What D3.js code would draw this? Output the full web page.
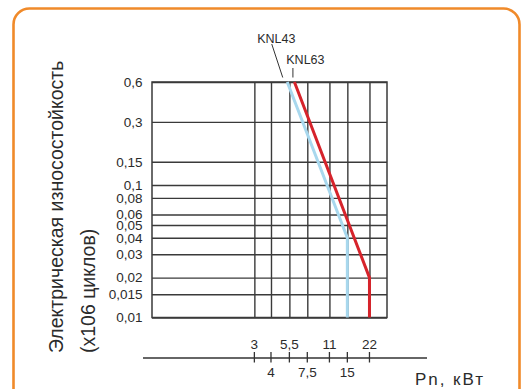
<!DOCTYPE html>
<html>
<head>
<meta charset="utf-8">
<script src="https://cdn.jsdelivr.net/npm/d3@7/dist/d3.min.js"></script>
<style>
  html, body { margin: 0; padding: 0; background: #fff; }
  svg { display: block; }
  text { font-family: "Liberation Sans", Arial, sans-serif; fill: #2b2b2b; }
</style>
</head>
<body>
<svg id="chart" width="524" height="389"></svg>
<script>
// ---- data ----
const xTickValues = [3, 4, 5.5, 7.5, 11, 15, 22];
const xTickLabels = ["3", "4", "5,5", "7,5", "11", "15", "22"];
const yTickValues = [0.6, 0.3, 0.15, 0.1, 0.08, 0.06, 0.05, 0.04, 0.03, 0.02, 0.015, 0.01];
const yTickLabels = ["0,6", "0,3", "0,15", "0,1", "0,08", "0,06", "0,05", "0,04", "0,03", "0,02", "0,015", "0,01"];
const knl43P = [5.3, 15, 15];
const knl43V = [0.6, 0.04, 0.01];
const knl63P = [6, 22, 22];
const knl63V = [0.6, 0.02, 0.01];
const seriesNames = ["KNL43", "KNL63"];
const yTitle = ["Электрическая износостойкость", "(x106 циклов)"];
const xTitle = "Pn, кВт";

// ---- layout ----
const svg = d3.select("#chart");
const pLeft = 152, pRight = 387, pTop = 82, pBottom = 317.5;
const gridColor = "#3a3a3a";

const x = d3.scaleLog().domain([0.51, 29.8]).range([pLeft, pRight]);
const y = d3.scaleLog().domain([0.01, 0.6]).range([pBottom, pTop]);

// orange frame
svg.append("rect")
  .attr("x", 13.5).attr("y", 8.5).attr("width", 506).attr("height", 420)
  .attr("rx", 16).attr("ry", 16)
  .attr("fill", "none").attr("stroke", "#f08a2a").attr("stroke-width", 2.6);

// horizontal grid + y labels
const yAxis = d3.axisLeft(y)
  .tickValues(yTickValues)
  .tickSize(-(pRight - pLeft))
  .tickPadding(9.5)
  .tickFormat((d, i) => yTickLabels[i]);
const gy = svg.append("g").attr("transform", `translate(${pLeft},0)`).call(yAxis);
gy.select(".domain").remove();
gy.selectAll(".tick line").attr("stroke", gridColor).attr("stroke-width", 1.4);
gy.selectAll(".tick text")
  .attr("font-size", 13.5)
  .attr("font-family", "Liberation Sans, Arial, sans-serif")
  .attr("fill", "#2b2b2b");

// vertical grid
const xGrid = d3.axisBottom(x)
  .tickValues(xTickValues)
  .tickSize(-(pBottom - pTop))
  .tickFormat("");
const gx = svg.append("g").attr("transform", `translate(0,${pBottom})`).call(xGrid);
gx.select(".domain").remove();
gx.selectAll(".tick line").attr("stroke", gridColor).attr("stroke-width", 1.4);

// frame
svg.append("rect")
  .attr("x", pLeft).attr("y", pTop).attr("width", pRight - pLeft).attr("height", pBottom - pTop)
  .attr("fill", "none").attr("stroke", gridColor).attr("stroke-width", 1.5);

// series lines
const line = d3.line().x(d => x(d[0])).y(d => y(d[1]));
const s43 = knl43P.map((p, i) => [p, knl43V[i]]);
const s63 = knl63P.map((p, i) => [p, knl63V[i]]);
svg.append("path").datum(s43).attr("d", line)
  .attr("fill", "none").attr("stroke", "#a8d8ee").attr("stroke-width", 3);
svg.append("path").datum(s63).attr("d", line)
  .attr("fill", "none").attr("stroke", "#d6232b").attr("stroke-width", 3);

// series labels with leaders
const x43 = x(knl43P[0]), x63 = x(knl63P[0]);
svg.append("text").attr("x", x43 - 11).attr("y", 42.5).attr("text-anchor", "middle")
  .attr("font-size", 12.5).text(seriesNames[0]);
svg.append("line").attr("x1", x43 - 15.5).attr("y1", 44).attr("x2", x43 - 4.5).attr("y2", 77.5)
  .attr("stroke", "#333").attr("stroke-width", 1);
svg.append("text").attr("x", x63 + 11).attr("y", 64).attr("text-anchor", "middle")
  .attr("font-size", 12.5).text(seriesNames[1]);
svg.append("line").attr("x1", x63 - 1.5).attr("y1", 68).attr("x2", x63 - 1.5).attr("y2", 77.5)
  .attr("stroke", "#333").attr("stroke-width", 1);

// bottom power axis
const axisY = 358;
svg.append("line").attr("x1", 143).attr("x2", 427).attr("y1", axisY).attr("y2", axisY)
  .attr("stroke", "#333").attr("stroke-width", 1.3);
const ticks = svg.append("g").selectAll("g").data(xTickValues).join("g")
  .attr("transform", d => `translate(${x(d)},${axisY})`);
ticks.append("line").attr("y1", -6).attr("y2", 4.5).attr("stroke", "#333").attr("stroke-width", 1.3);
ticks.append("text")
  .attr("text-anchor", "middle")
  .attr("y", (d, i) => i % 2 === 0 ? -9 : 18.5)
  .attr("font-size", 13.5)
  .text((d, i) => xTickLabels[i]);

svg.append("text").attr("x", 415).attr("y", 384.5).attr("font-size", 17)
  .attr("textLength", 68).attr("lengthAdjust", "spacing").text(xTitle);

// y title
const yt = svg.append("text")
  .attr("transform", "translate(0,353) rotate(-90)")
  .attr("font-size", 19.5);
yt.append("tspan").attr("x", 0).attr("y", 63).text(yTitle[0]);
yt.append("tspan").attr("x", 0).attr("y", 95).text(yTitle[1]);
</script>
</body>
</html>
